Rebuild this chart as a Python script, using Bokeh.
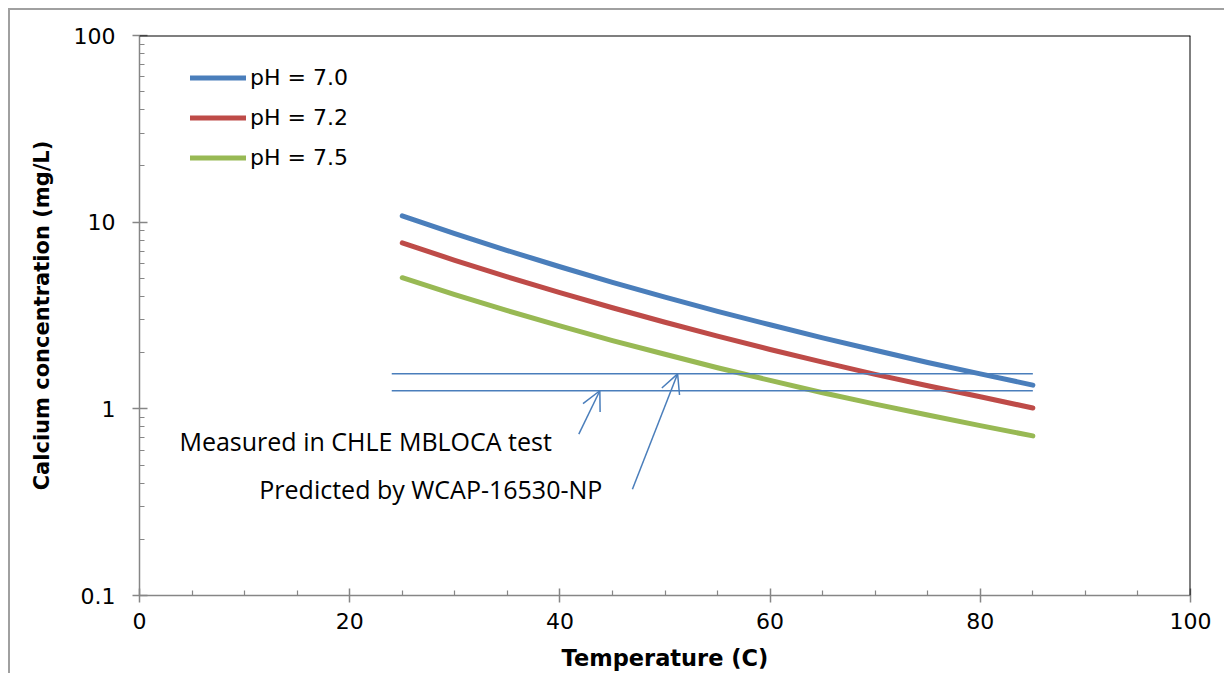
from bokeh.plotting import figure
from bokeh.models import (Range1d, FixedTicker, Span, Arrow, OpenHead, Legend,
                          LegendItem, Label)
from bokeh.embed import file_html
from bokeh.resources import INLINE

# ---- data ----
temperature_c = [25, 30, 35, 40, 45, 50, 55, 60, 65, 70, 75, 80, 85]
calcium_ph70 = [10.81, 8.69, 7.05, 5.77, 4.76, 3.97, 3.33, 2.82, 2.40, 2.06, 1.77, 1.54, 1.34]
calcium_ph72 = [7.74, 6.25, 5.09, 4.19, 3.48, 2.91, 2.45, 2.08, 1.78, 1.53, 1.33, 1.16, 1.01]
calcium_ph75 = [5.04, 4.09, 3.36, 2.78, 2.32, 1.96, 1.66, 1.42, 1.22, 1.06, 0.927, 0.813, 0.716]
series_names = ["pH = 7.0", "pH = 7.2", "pH = 7.5"]
series_colors = ["#4a7ebb", "#be4b48", "#98b954"]

reference_t = [24, 85]
measured_ca = [1.25, 1.25]     # Measured in CHLE MBLOCA test
predicted_ca = [1.54, 1.54]    # Predicted by WCAP-16530-NP

x_ticks = [0, 20, 40, 60, 80, 100]
x_minor_ticks = [5, 10, 15, 25, 30, 35, 45, 50, 55, 65, 70, 75, 85, 90, 95]
y_ticks = [0.1, 1, 10, 100]
y_tick_labels = ["0.1", "1", "10", "100"]
y_minor_ticks = [k * 10.0 ** d for d in (-1, 0, 1) for k in range(2, 10)]

AXIS_GRAY = "#868686"
TICK_FONT = "DejaVu Sans"

p = figure(width=1216, height=665, x_range=Range1d(0, 100), y_range=Range1d(0.1, 100),
           y_axis_type="log", output_backend="svg", toolbar_location=None,
           min_border_left=129, min_border_right=36, min_border_top=25, min_border_bottom=80)
p.styles = {"margin-left": "8px", "margin-top": "8px",
            "border-left": "2px solid #a0a0a0", "border-top": "2px solid #a0a0a0"}
p.grid.visible = False
p.outline_line_color = None

# frame top / right in black
p.add_layout(Span(location=100, dimension="width", line_color="black", line_width=2))
p.add_layout(Span(location=100, dimension="height", line_color="black", line_width=2))

# curves
renderers = []
for ys, c in zip([calcium_ph70, calcium_ph72, calcium_ph75], series_colors):
    r = p.line(temperature_c, ys, line_color=c, line_width=5, line_cap="round", line_join="round")
    renderers.append(r)

# reference lines
p.line(reference_t, predicted_ca, line_color="#4a7ebb", line_width=1.5)
p.line(reference_t, measured_ca, line_color="#4a7ebb", line_width=1.5)

# arrows
p.add_layout(Arrow(x_start=41.8, y_start=0.732, x_end=43.8, y_end=measured_ca[0],
                   line_color="#4a7ebb", line_width=1.5,
                   end=OpenHead(size=19, line_color="#4a7ebb", line_width=1.5)))
p.add_layout(Arrow(x_start=46.9, y_start=0.371, x_end=51.2, y_end=predicted_ca[0],
                   line_color="#4a7ebb", line_width=1.5,
                   end=OpenHead(size=19, line_color="#4a7ebb", line_width=1.5)))

p.add_layout(Label(x=3.8, y=0.674, text="Measured in CHLE MBLOCA test",
                   text_font="Open Sans", text_font_size="25px", text_baseline="middle",
                   text_color="black"))
p.add_layout(Label(x=11.4, y=0.373, text="Predicted by WCAP-16530-NP",
                   text_font="Open Sans", text_font_size="25px", text_baseline="middle",
                   text_color="black"))

# axes
xa = p.xaxis[0]
xa.ticker = FixedTicker(ticks=x_ticks, minor_ticks=x_minor_ticks)
xa.axis_label = "Temperature (C)"
ya = p.yaxis[0]
ya.ticker = FixedTicker(ticks=y_ticks, minor_ticks=y_minor_ticks)
ya.major_label_overrides = {t: s for t, s in zip(y_ticks, y_tick_labels)}
ya.axis_label = "Calcium concentration (mg/L)"

for ax in (xa, ya):
    ax.axis_line_color = AXIS_GRAY
    ax.axis_line_width = 1.5
    ax.major_tick_line_color = AXIS_GRAY
    ax.major_tick_line_width = 1.5
    ax.minor_tick_line_color = AXIS_GRAY
    ax.minor_tick_line_width = 1.2
    ax.major_tick_out = 7
    ax.minor_tick_in = 5
    ax.minor_tick_out = 0
    ax.major_label_text_font = TICK_FONT
    ax.major_label_text_font_size = "22px"
    ax.major_label_text_color = "black"
    ax.axis_label_text_font = "DejaVu Sans"
    ax.axis_label_text_font_style = "bold"
    ax.axis_label_text_color = "black"
xa.axis_label_text_font_size = "22.5px"
ya.axis_label_text_font_size = "21px"
xa.major_tick_in = 7
ya.major_tick_in = 8
xa.major_label_standoff = 10
xa.axis_label_standoff = 13
ya.major_label_standoff = 17
ya.axis_label_standoff = 17

legend = Legend(items=[LegendItem(label=n, renderers=[r]) for n, r in zip(series_names, renderers)],
                location=(51, 425), glyph_width=56, glyph_height=25, label_height=25,
                label_standoff=4, spacing=15, padding=0, margin=0,
                border_line_color=None, background_fill_alpha=0,
                label_text_font="DejaVu Sans", label_text_font_size="22px",
                label_text_color="black")
p.add_layout(legend)

open("out.html", "w").write(file_html(p, INLINE))
